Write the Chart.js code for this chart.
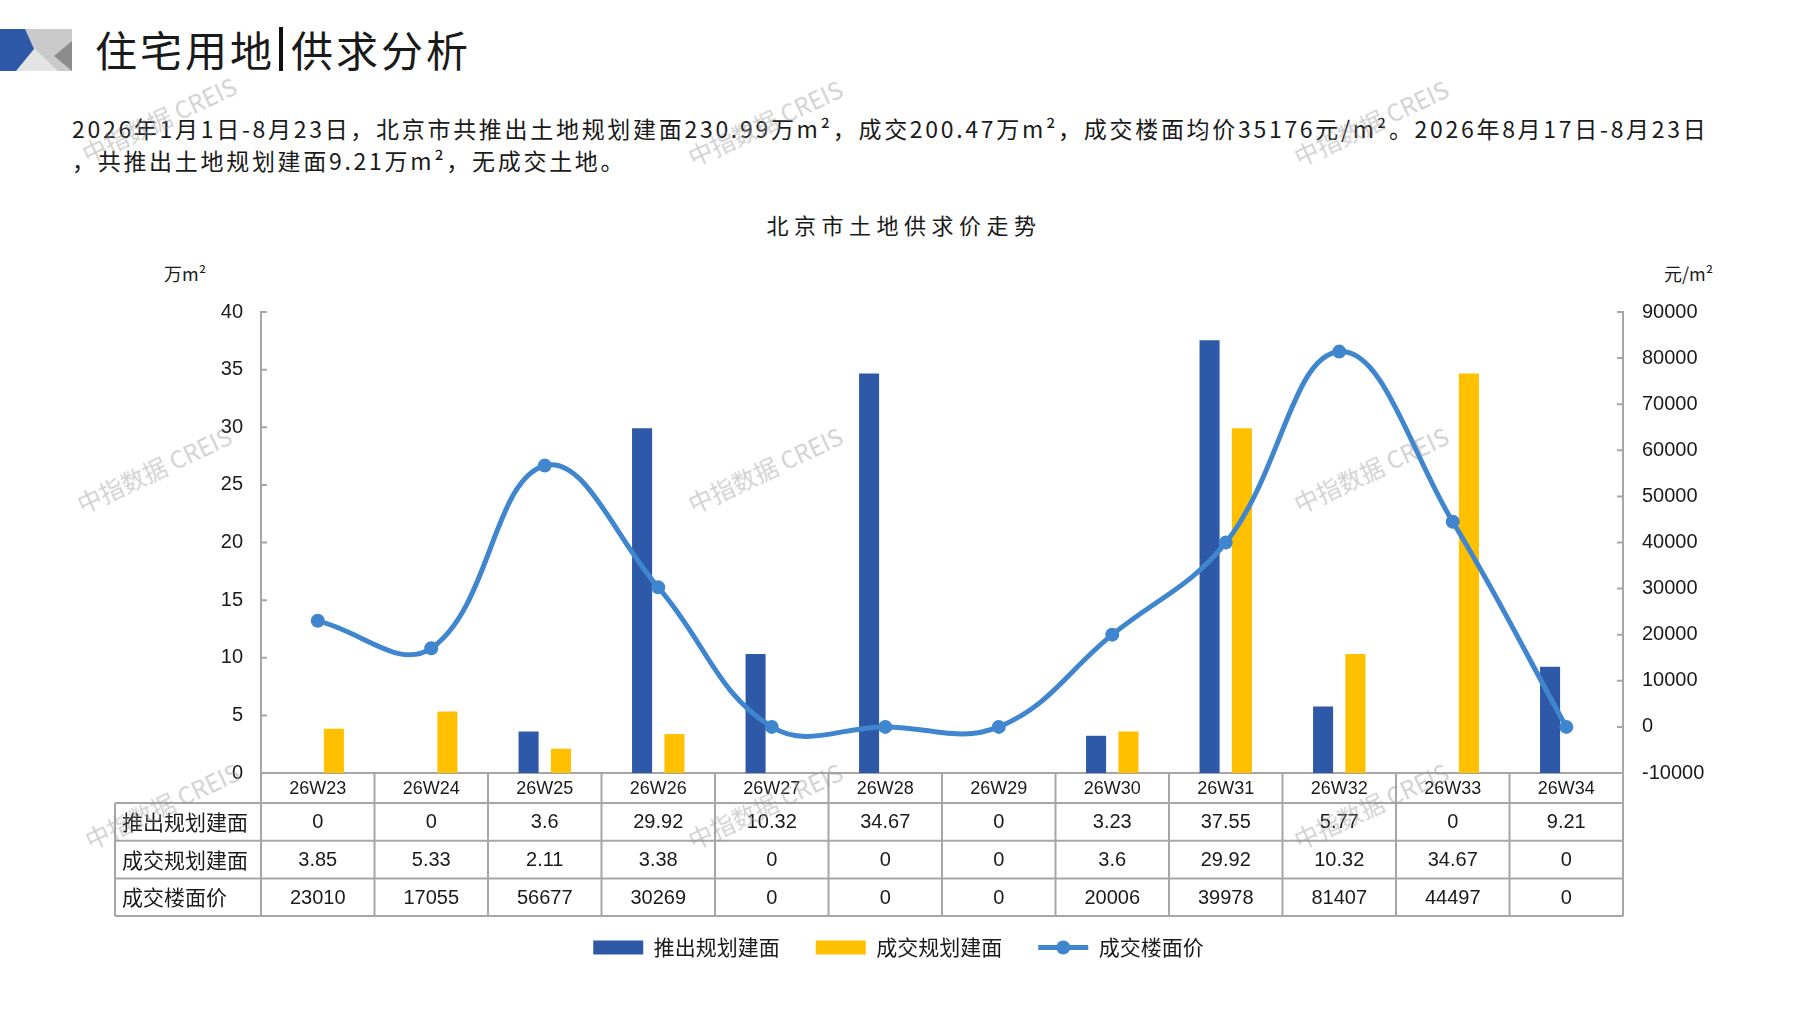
<!DOCTYPE html>
<html>
<head>
<meta charset="utf-8">
<script src="https://cdn.jsdelivr.net/npm/chart.js@4.4.0/dist/chart.umd.min.js"></script>
<style>
  html, body { margin: 0; padding: 0; background: #fff; }
  body { width: 1797px; height: 1010px; position: relative; overflow: hidden; font-family: "Noto Sans CJK SC", sans-serif; color: #1a1a1a; }
  #chartBox { position: absolute; left: 0; top: 0; width: 1797px; height: 1010px; }
  .logo { position: absolute; left: 0; top: 29px; }
  .title { position: absolute; left: 95px; top: 25px; height: 48px; display: flex; align-items: center; font-size: 42px; letter-spacing: 3px; line-height: 48px; }
  .title .bar { display: inline-block; width: 4px; height: 44px; background: #111; margin: 0 8px 0 4px; }
  .intro { position: absolute; left: 72px; top: 112px; font-size: 23px; letter-spacing: 2.7px; line-height: 32px; white-space: nowrap; }
  .ctitle { position: absolute; left: 904px; top: 224px; transform: translate(-50%, -50%); font-size: 22px; letter-spacing: 5.5px; white-space: nowrap; }
  .unit { position: absolute; top: 273px; transform: translateY(-50%); font-size: 18px; white-space: nowrap; }
  .wm { position: absolute; transform: translate(-50%, -50%) rotate(-25deg); font-size: 24px; color: rgba(150,150,150,0.45); white-space: nowrap; pointer-events: none; font-family: "Noto Sans CJK SC", "Liberation Sans", sans-serif; }
</style>
</head>
<body>
<svg class="logo" width="72" height="42" viewBox="0 0 72 42">
  <rect x="0" y="0" width="72" height="42" fill="#c9c9c9"/>
  <polygon points="14,42 34,19 58,42" fill="#e4e4e4"/>
  <polygon points="72,12 72,42 54,27" fill="#8c8c8c"/>
  <polygon points="0,0 25,0 34,20 16,42 0,42" fill="#2e59a8"/>
</svg>
<div class="title">住宅用地<span class="bar"></span>供求分析</div>
<div class="intro">2026年1月1日-8月23日，北京市共推出土地规划建面230.99万m²，成交200.47万m²，成交楼面均价35176元/m²。2026年8月17日-8月23日<br>，共推出土地规划建面9.21万m²，无成交土地。</div>
<div class="ctitle">北京市土地供求价走势</div>
<div class="unit" style="left:164px">万m²</div>
<div class="unit" style="left:1664px">元/m²</div>

<div id="chartBox"><canvas id="landChart"></canvas></div>

<div class="wm" style="left:159px;top:119px">中指数据 CREIS</div>
<div class="wm" style="left:765px;top:122px">中指数据 CREIS</div>
<div class="wm" style="left:1371px;top:122px">中指数据 CREIS</div>
<div class="wm" style="left:154px;top:469px">中指数据 CREIS</div>
<div class="wm" style="left:765px;top:469px">中指数据 CREIS</div>
<div class="wm" style="left:1371px;top:469px">中指数据 CREIS</div>
<div class="wm" style="left:162px;top:805px">中指数据 CREIS</div>
<div class="wm" style="left:765px;top:805px">中指数据 CREIS</div>
<div class="wm" style="left:1371px;top:805px">中指数据 CREIS</div>

<script>
// Data
const weeks = ["26W23", "26W24", "26W25", "26W26", "26W27", "26W28", "26W29", "26W30", "26W31", "26W32", "26W33", "26W34"]
const launchArea = [0, 0, 3.6, 29.92, 10.32, 34.67, 0, 3.23, 37.55, 5.77, 0, 9.21]
const dealArea = [3.85, 5.33, 2.11, 3.38, 0, 0, 0, 3.6, 29.92, 10.32, 34.67, 0]
const dealPrice = [23010, 17055, 56677, 30269, 0, 0, 0, 20006, 39978, 81407, 44497, 0]
const seriesNames = ["推出规划建面", "成交规划建面", "成交楼面价"]

const BLUE = "#2e59a8"
const YELLOW = "#ffc000"
const LINE = "#3f86ce"
const GRID = "#a6a6a6"
const TEXT = "#1a1a1a"

// Data table under the plot, columns follow the x scale
const tablePlugin = {
  id: "dataTable",
  afterDraw(chart) {
    const { ctx, chartArea } = chart
    const x = chart.scales.x
    const step = x.width / weeks.length
    const headTop = chartArea.bottom
    const headBottom = headTop + 30
    const rowH = 37.7
    const bottom = headBottom + rowH * 3
    const labelLeft = 115
    const rows = [launchArea, dealArea, dealPrice]

    ctx.save()
    ctx.strokeStyle = GRID
    ctx.lineWidth = 2
    ctx.beginPath()
    for (let r = 0; r <= 3; r++) {
      const yy = headBottom + r * rowH
      ctx.moveTo(labelLeft, yy)
      ctx.lineTo(x.right, yy)
    }
    for (let k = 0; k <= weeks.length; k++) {
      const xx = x.left + k * step
      ctx.moveTo(xx, headTop)
      ctx.lineTo(xx, bottom)
    }
    ctx.moveTo(labelLeft, headBottom)
    ctx.lineTo(labelLeft, bottom)
    ctx.stroke()

    ctx.fillStyle = TEXT
    ctx.textBaseline = "middle"
    ctx.textAlign = "center"
    ctx.font = "18px 'Liberation Sans', sans-serif"
    weeks.forEach((w, i) => {
      ctx.fillText(w, x.getPixelForValue(i), (headTop + headBottom) / 2 + 1)
    })
    ctx.font = "20px 'Liberation Sans', sans-serif"
    rows.forEach((vals, r) => {
      const cy = headBottom + r * rowH + rowH / 2 + 1
      vals.forEach((v, i) => {
        ctx.fillText(String(v), x.getPixelForValue(i), cy)
      })
    })
    ctx.textAlign = "left"
    ctx.font = "21px 'Noto Sans CJK SC', sans-serif"
    seriesNames.forEach((name, r) => {
      ctx.fillText(name, labelLeft + 7, headBottom + r * rowH + rowH / 2)
    })

    // inside tick marks on both value axes
    ctx.beginPath()
    const y = chart.scales.y
    y.ticks.forEach((t) => {
      const py = y.getPixelForValue(t.value)
      ctx.moveTo(y.right, py)
      ctx.lineTo(y.right + 6, py)
    })
    const y1 = chart.scales.y1
    y1.ticks.forEach((t) => {
      const py = y1.getPixelForValue(t.value)
      ctx.moveTo(y1.left - 6, py)
      ctx.lineTo(y1.left, py)
    })
    ctx.stroke()

    // legend marker for the price line
    const hb = chart.legend && chart.legend.legendHitBoxes && chart.legend.legendHitBoxes[2]
    if (hb) {
      const cy = hb.top + hb.height / 2
      ctx.strokeStyle = LINE
      ctx.lineWidth = 5
      ctx.beginPath()
      ctx.moveTo(hb.left, cy)
      ctx.lineTo(hb.left + 50, cy)
      ctx.stroke()
      ctx.fillStyle = LINE
      ctx.beginPath()
      ctx.arc(hb.left + 25, cy, 7, 0, Math.PI * 2)
      ctx.fill()
    }
    ctx.restore()
  },
}

document.addEventListener("DOMContentLoaded", () => {
  const el = document.getElementById("landChart")

  new Chart(el, {
    data: {
      labels: weeks,
      datasets: [
        {
          type: "line",
          label: seriesNames[2],
          data: dealPrice,
          yAxisID: "y1",
          borderColor: LINE,
          backgroundColor: LINE,
          borderWidth: 5,
          pointRadius: 7,
          pointBackgroundColor: LINE,
          pointBorderWidth: 0,
          tension: 0.4,
          order: 0,
        },
        {
          type: "bar",
          label: seriesNames[0],
          data: launchArea,
          yAxisID: "y",
          backgroundColor: BLUE,
          categoryPercentage: 0.57,
          barPercentage: 0.62,
          order: 1,
        },
        {
          type: "bar",
          label: seriesNames[1],
          data: dealArea,
          yAxisID: "y",
          backgroundColor: YELLOW,
          categoryPercentage: 0.57,
          barPercentage: 0.62,
          order: 1,
        },
      ],
    },
    options: {
      responsive: true,
      maintainAspectRatio: false,
      animation: false,
      layout: {
        padding: { top: 312, left: 0, right: 0, bottom: 42 },
      },
      plugins: {
        legend: {
          position: "bottom",
          labels: {
            color: TEXT,
            font: { family: "'Noto Sans CJK SC', sans-serif", size: 21 },
            boxWidth: 50,
            boxHeight: 14,
            padding: 36,
            sort: (a, b) => [1, 2, 0].indexOf(a.datasetIndex) - [1, 2, 0].indexOf(b.datasetIndex),
            generateLabels: (chart) => {
              const items = Chart.defaults.plugins.legend.labels.generateLabels(chart)
              items.forEach((it) => {
                if (it.datasetIndex === 0) {
                  it.fillStyle = "rgba(0,0,0,0)"
                  it.strokeStyle = "rgba(0,0,0,0)"
                }
                it.lineWidth = 0
              })
              return items
            },
          },
        },
        tooltip: { enabled: false },
      },
      scales: {
        x: {
          grid: { display: false },
          border: { display: true, color: GRID, width: 2 },
          ticks: { display: false },
          afterFit: (scale) => {
            scale.height = 128
          },
        },
        y: {
          position: "left",
          min: 0,
          max: 40,
          ticks: {
            stepSize: 5,
            color: TEXT,
            padding: 18,
            font: { family: "'Liberation Sans', sans-serif", size: 20 },
          },
          grid: { display: false, drawTicks: false },
          border: { display: true, color: GRID, width: 2 },
          afterFit: (scale) => {
            scale.width = 261
          },
        },
        y1: {
          position: "right",
          min: -10000,
          max: 90000,
          ticks: {
            stepSize: 10000,
            color: TEXT,
            padding: 19,
            font: { family: "'Liberation Sans', sans-serif", size: 20 },
            callback: (v) => String(v),
          },
          grid: { display: false, drawTicks: false },
          border: { display: true, color: GRID, width: 2 },
          afterFit: (scale) => {
            scale.width = 174
          },
        },
      },
    },
    plugins: [tablePlugin],
  })
})
</script>
</body>
</html>
